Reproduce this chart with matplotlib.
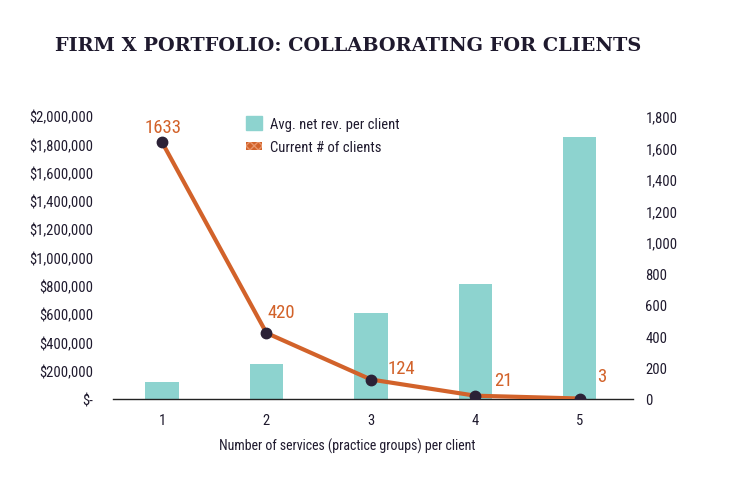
import matplotlib
matplotlib.use("Agg")
import matplotlib.pyplot as plt
from matplotlib.patches import Patch
from matplotlib.ticker import FuncFormatter, MultipleLocator
from matplotlib import font_manager

services = [1, 2, 3, 4, 5]
avg_net_rev = [120000, 250000, 610000, 810000, 1850000]
num_clients = [1633, 420, 124, 21, 3]
client_labels = ["1633", "420", "124", "21", "3"]

# pick a condensed font file if available
cond_path = None
for f in font_manager.fontManager.ttflist:
    fn = f.fname.lower()
    if ("condensed" in fn or "narrow" in fn) and not any(k in fn for k in ("bold", "italic", "oblique", "light", "thin", "medium", "black", "semi", "extra")):
        if cond_path is None or "roboto" in fn:
            cond_path = f.fname
if cond_path:
    cond_name = font_manager.FontProperties(fname=cond_path).get_name()
    cond_stretch = font_manager.FontProperties(fname=cond_path).get_stretch()
else:
    cond_name, cond_stretch = "DejaVu Sans", "normal"

plt.rcParams['font.family'] = [cond_name, 'DejaVu Sans']
plt.rcParams['font.stretch'] = cond_stretch

label_font = font_manager.FontProperties(fname=cond_path) if cond_path else font_manager.FontProperties()
label_font.set_size(13.5)

TEAL = "#8DD3CF"
ORANGE = "#D2622A"
DARK = "#2B2136"
TXT = "#1f1a2e"

fig = plt.figure(figsize=(7.36, 4.81), dpi=100)
ax = fig.add_axes([0.1535, 0.1684, 0.7065, 0.5884])
ax2 = ax.twinx()

ax.bar(services, avg_net_rev, width=0.32, color=TEAL, zorder=1)
ax.set_xlim(0.53, 5.51)
ax.set_ylim(0, 2000000)
ax.yaxis.set_major_locator(MultipleLocator(200000))
ax.yaxis.set_major_formatter(FuncFormatter(lambda v, p: "$-" if v == 0 else f"${v:,.0f}"))

ax2.plot(services, num_clients, color=ORANGE, lw=3, zorder=3, solid_capstyle="butt",
         marker="o", markersize=7.5, markerfacecolor=DARK, markeredgecolor=DARK)
ax2.set_ylim(0, 1800)
ax2.yaxis.set_major_locator(MultipleLocator(200))
ax2.yaxis.set_major_formatter(FuncFormatter(lambda v, p: f"{v:,.0f}"))

offsets = [(1, 11), (11, 15), (22, 8), (20, 11.5), (16, 16)]
for x, y, lab, off in zip(services, num_clients, client_labels, offsets):
    ax2.annotate(lab, (x, y), xytext=off, textcoords="offset points",
                 ha="center", va="center", color=ORANGE, fontproperties=label_font)

for a in (ax, ax2):
    for s in a.spines.values():
        s.set_visible(False)
    a.tick_params(length=0, labelsize=10.5, colors=TXT)
ax.spines['bottom'].set_visible(True)
ax.spines['bottom'].set_color("#222222")
ax.spines['bottom'].set_linewidth(1)
ax.tick_params(axis='y', pad=14)
ax2.tick_params(axis='y', pad=9)
ax.tick_params(axis='x', pad=10)
ax.set_xticks(services)
ax.set_xlabel("Number of services (practice groups) per client", fontsize=10, color=TXT)
ax.xaxis.set_label_coords(0.45, -0.138)

handles = [Patch(facecolor=TEAL, edgecolor=TEAL),
           Patch(facecolor=ORANGE, edgecolor="#E8956A", hatch="xxxx", linewidth=0)]
leg = fig.legend(handles, ["Avg. net rev. per client", "Current # of clients"],
                 loc="upper left", bbox_to_anchor=(0.317, 0.785), frameon=False,
                 fontsize=10.5, handlelength=1.1, handleheight=1.2, handletextpad=0.5,
                 labelspacing=0.5)
for t in leg.get_texts():
    t.set_color(TXT)
# make the second handle a flat strip like the reference
leg.legend_handles[1].set_height(leg.legend_handles[1].get_height() * 0.55)
leg.legend_handles[1].set_y(leg.legend_handles[1].get_y() + leg.legend_handles[0].get_height() * 0.22)

fig.text(0.075, 0.905, "FIRM X PORTFOLIO: COLLABORATING FOR CLIENTS",
         fontsize=13.9, fontweight="bold", color=TXT, family=["DejaVu Serif"],
         stretch="normal", ha="left", va="center")

fig.savefig("out.png", dpi=100)
